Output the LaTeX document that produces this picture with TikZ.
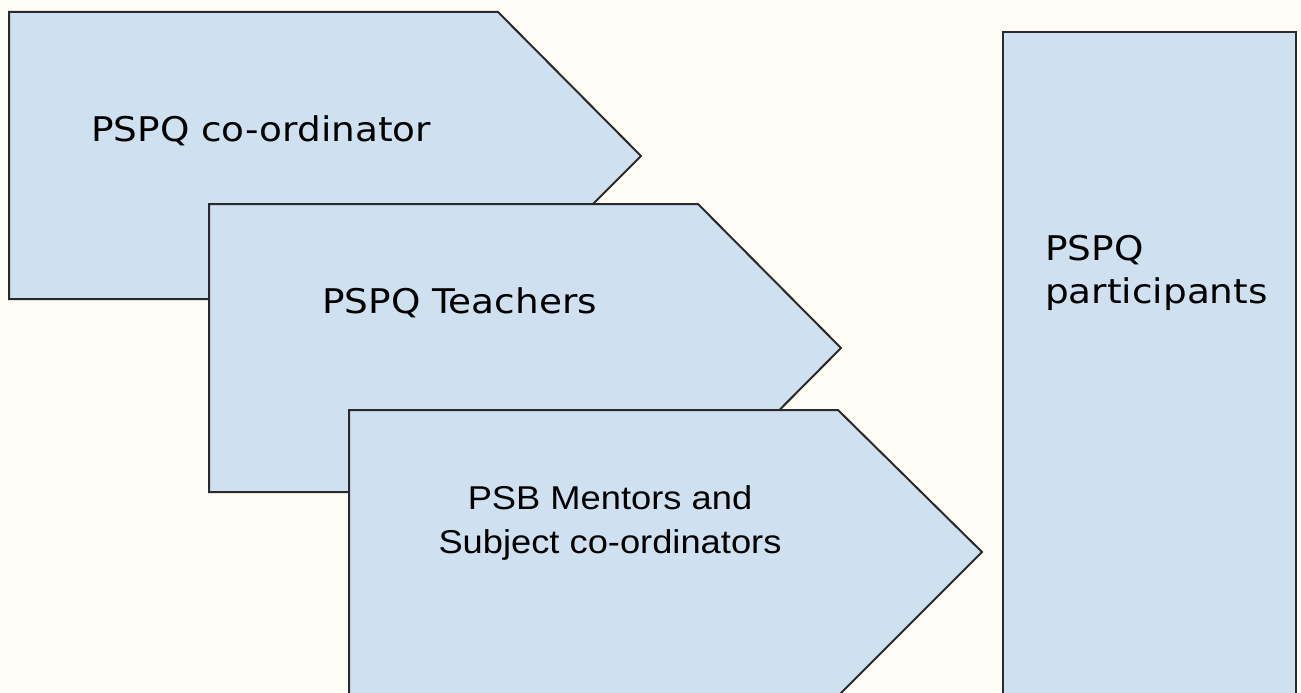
\documentclass[tikz,border=0pt]{standalone}
\usepackage{fontspec}
\setmainfont[FakeStretch=1.1]{DejaVu Sans}
\newfontfamily\arialfont[FakeStretch=1.1]{Liberation Sans}
\definecolor{paper}{HTML}{FFFBF5}
\definecolor{boxfill}{HTML}{CFE0F0}
\definecolor{boxline}{HTML}{2A2A2A}

\begin{document}
\begin{tikzpicture}[x=1pt,y=-1pt,
    shapebox/.style={fill=boxfill,draw=boxline,line width=2pt,line join=miter},
    label/.style={inner sep=0pt,font=\fontsize{34}{42}\selectfont}]
            \useasboundingbox[fill=paper] (0,0) rectangle (1301,693);
            \clip (0,0) rectangle (1301,693);

            \draw[shapebox] (1003,32) rectangle (1296,720);
            \draw[shapebox] (9,12) -- (498,12) -- (641,156) -- (498,299) -- (9,299) -- cycle;
            \draw[shapebox] (209,204) -- (698,204) -- (841,348) -- (698,492) -- (209,492) -- cycle;
            \draw[shapebox] (349,410) -- (838,410) -- (982,552) -- (838,696) -- (349,696) -- cycle;

            \node[label,anchor=base west] (coordinator) at (91,141.5) {PSPQ co-ordinator};
            \node[label,anchor=base west] (teachers) at (322,313) {PSPQ Teachers};
            \node[label,align=center,font=\arialfont\fontsize{33}{44}\selectfont] (mentors) at (610,522.5)
                {PSB Mentors and\\Subject co-ordinators};
            \node[label,align=left,anchor=north west,font=\fontsize{34}{43}\selectfont] (participants) at (1045,235)
                {PSPQ\\participants};
        \end{tikzpicture}
\end{document}
